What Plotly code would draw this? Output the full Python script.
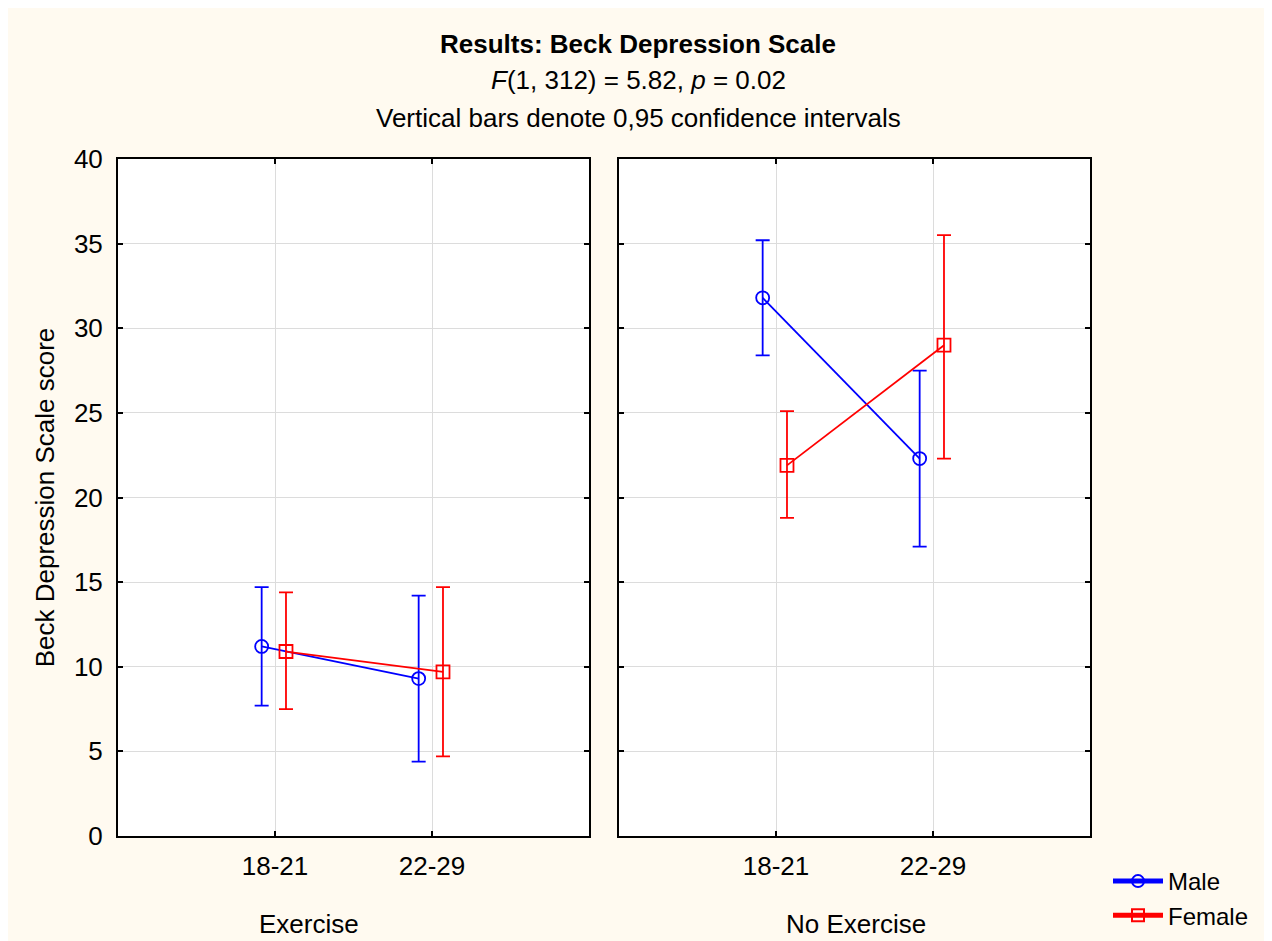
import plotly.graph_objects as go

# ---- data ----
groups = ["Exercise", "No Exercise"]
age_groups = ["18-21", "22-29"]

male_mean = {"Exercise": [11.2, 9.3], "No Exercise": [31.8, 22.3]}
male_low = {"Exercise": [7.7, 4.4], "No Exercise": [28.4, 17.1]}
male_high = {"Exercise": [14.7, 14.2], "No Exercise": [35.2, 27.5]}

female_mean = {"Exercise": [10.9, 9.7], "No Exercise": [21.9, 29.0]}
female_low = {"Exercise": [7.5, 4.7], "No Exercise": [18.8, 22.3]}
female_high = {"Exercise": [14.4, 14.7], "No Exercise": [25.1, 35.5]}

y_ticks = [0, 5, 10, 15, 20, 25, 30, 35, 40]

# ---- style ----
FONT = "Liberation Sans, Arial, sans-serif"
FS = 26
CREAM = "#FFFAF0"
BLUE = "#0000FF"
RED = "#FF0000"
MALE_OFF = -0.085
FEMALE_OFF = 0.07

# page offset (browser body margin)
OX, OY = 8, 8

fig = go.Figure()

series = [
    ("Male", male_mean, male_low, male_high, BLUE, "circle-open", MALE_OFF),
    ("Female", female_mean, female_low, female_high, RED, "square-open", FEMALE_OFF),
]

for gi, g in enumerate(groups):
    xa = "x" if gi == 0 else "x2"
    for name, mean, low, high, color, sym, off in series:
        m = mean[g]
        xs = [i + 1 + off for i in range(len(age_groups))]
        fig.add_trace(go.Scatter(
            x=xs, y=m, xaxis=xa, yaxis="y" if gi == 0 else "y2",
            mode="lines+markers", name=name, showlegend=(gi == 0),
            legendgroup=name,
            line=dict(color=color, width=1.8),
            marker=dict(symbol=sym, size=13, color=color, line=dict(width=1.8, color=color)),
            error_y=dict(type="data", symmetric=False,
                         array=[h - v for h, v in zip(high[g], m)],
                         arrayminus=[v - l for l, v in zip(low[g], m)],
                         width=7, thickness=1.8, color=color),
        ))

# reference page coordinates of the plotting region
L, R, T, B = 118, 1090, 159, 836
W, H = 1272 - OX, 941 - OY
pw = R - L
ph = B - T
d1 = (589 - L) / pw
d2 = (619 - L) / pw

axis_common = dict(
    showline=True, linecolor="black", linewidth=2, mirror="ticks",
    ticks="inside", ticklen=5, tickwidth=2, tickcolor="black",
    showgrid=True, gridcolor="#DCDCDC", gridwidth=1, zeroline=False,
    automargin=False,
    tickfont=dict(family=FONT, size=FS, color="black"),
)

fig.update_layout(
    width=W, height=H,
    margin=dict(l=L - OX, r=(W + OX) - R, t=T - OY, b=(H + OY) - B, autoexpand=False),
    paper_bgcolor=CREAM, plot_bgcolor="white",
    font=dict(family=FONT, size=FS, color="black"),
    xaxis=dict(domain=[0, d1], range=[0, 3], tickvals=[1, 2], ticktext=age_groups,
               ticklabelstandoff=6, **axis_common),
    xaxis2=dict(domain=[d2, 1], range=[0, 3], tickvals=[1, 2], ticktext=age_groups,
                anchor="y2", ticklabelstandoff=6, **axis_common),
    yaxis=dict(domain=[0, 1], range=[0, 40], tickvals=y_ticks, ticklabelstandoff=8,
               title=dict(text="Beck Depression Scale score", standoff=12,
                          font=dict(family=FONT, size=FS)),
               **axis_common),
    yaxis2=dict(domain=[0, 1], range=[0, 40], tickvals=y_ticks, anchor="x2",
                showticklabels=False, **axis_common),
    showlegend=True,
    legend=dict(x=(1108 - L) / pw, xanchor="left", y=(B - 938) / ph, yanchor="bottom",
                bgcolor="rgba(0,0,0,0)", font=dict(family=FONT, size=24),
                tracegroupgap=0, itemsizing="constant", itemwidth=50),
)

def px_x(p):
    return (p - L) / pw

def px_y(p):
    return (B - p) / ph

annos = [
    dict(text="<b>Results: Beck Depression Scale</b>", x=px_x(638), y=px_y(44)),
    dict(text="<i>F</i>(1, 312) = 5.82, <i>p</i> = 0.02", x=px_x(638), y=px_y(80)),
    dict(text="Vertical bars denote 0,95 confidence intervals", x=px_x(638), y=px_y(118)),
    dict(text=groups[0], x=px_x(309), y=px_y(924)),
    dict(text=groups[1], x=px_x(856), y=px_y(924)),
]
for a in annos:
    fig.add_annotation(xref="paper", yref="paper", showarrow=False,
                       xanchor="center", yanchor="middle",
                       font=dict(family=FONT, size=FS, color="black"), **a)

fig.write_html("out.html")
